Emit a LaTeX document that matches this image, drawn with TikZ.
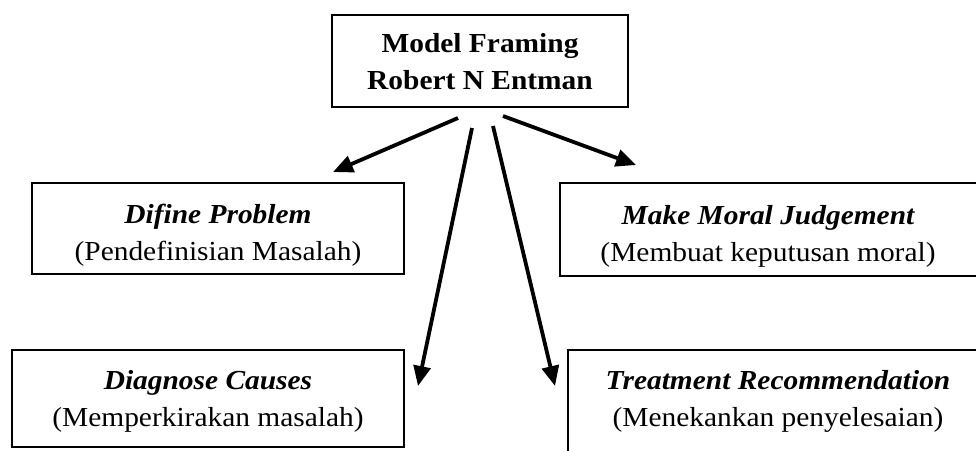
\documentclass[tikz,border=0pt]{standalone}
\usepackage{graphicx}
\usepackage{fontspec}
\setmainfont{Liberation Serif}
\usetikzlibrary{arrows.meta}
\newcommand\hs[1]{\scalebox{1.07}[1]{#1}}
\tikzset{
  boxline/.style={draw=black, line width=1.9pt},
  label/.style={align=center, inner sep=0pt, font=\fontsize{27.5}{37}\selectfont},
  arr/.style={line width=3.8pt, -{Triangle[length=20pt,width=17pt]}},
}
\begin{document}
\begin{tikzpicture}[x=1pt,y=-1pt]
\useasboundingbox (0,0) rectangle (976,450);
\clip (0,0) rectangle (976,450);
% boxes
\draw[boxline] (332,15) rectangle (628,107);
\draw[boxline] (32,183) rectangle (404,274);
\draw[boxline] (560,183) rectangle (985,276);
\draw[boxline] (12,350) rectangle (404,447);
\draw[boxline] (568,350) rectangle (990,470);
% texts
\node[label, font=\fontsize{27.5}{37}\selectfont\bfseries] (top) at (480,62) {\hs{Model Framing}\\\hs{Robert N Entman}};
\node[label] (def) at (218,235) {\hs{\itshape\bfseries Difine Problem}\\\hs{(Pendefinisian Masalah)}};
\node[label] (mor) at (768,236) {\hs{\itshape\bfseries Make Moral Judgement}\\\hs{(Membuat keputusan moral)}};
\node[label] (dia) at (208,401) {\hs{\itshape\bfseries Diagnose Causes}\\\hs{(Memperkirakan masalah)}};
\node[label] (tre) at (778,401) {\hs{\itshape\bfseries Treatment Recommendation}\\\hs{(Menekankan penyelesaian)}};
% arrow ends
\coordinate (s1) at (458,118);
\coordinate (t1) at (333,172);
\coordinate (s2) at (472,128);
\coordinate (t2) at (418,386);
\coordinate (s3) at (493,126);
\coordinate (t3) at (555,386);
\coordinate (s4) at (503,116);
\coordinate (t4) at (636,165);
\draw[arr] (s1) -- (t1);
\draw[arr] (s2) -- (t2);
\draw[arr] (s3) -- (t3);
\draw[arr] (s4) -- (t4);
\end{tikzpicture}
\end{document}
